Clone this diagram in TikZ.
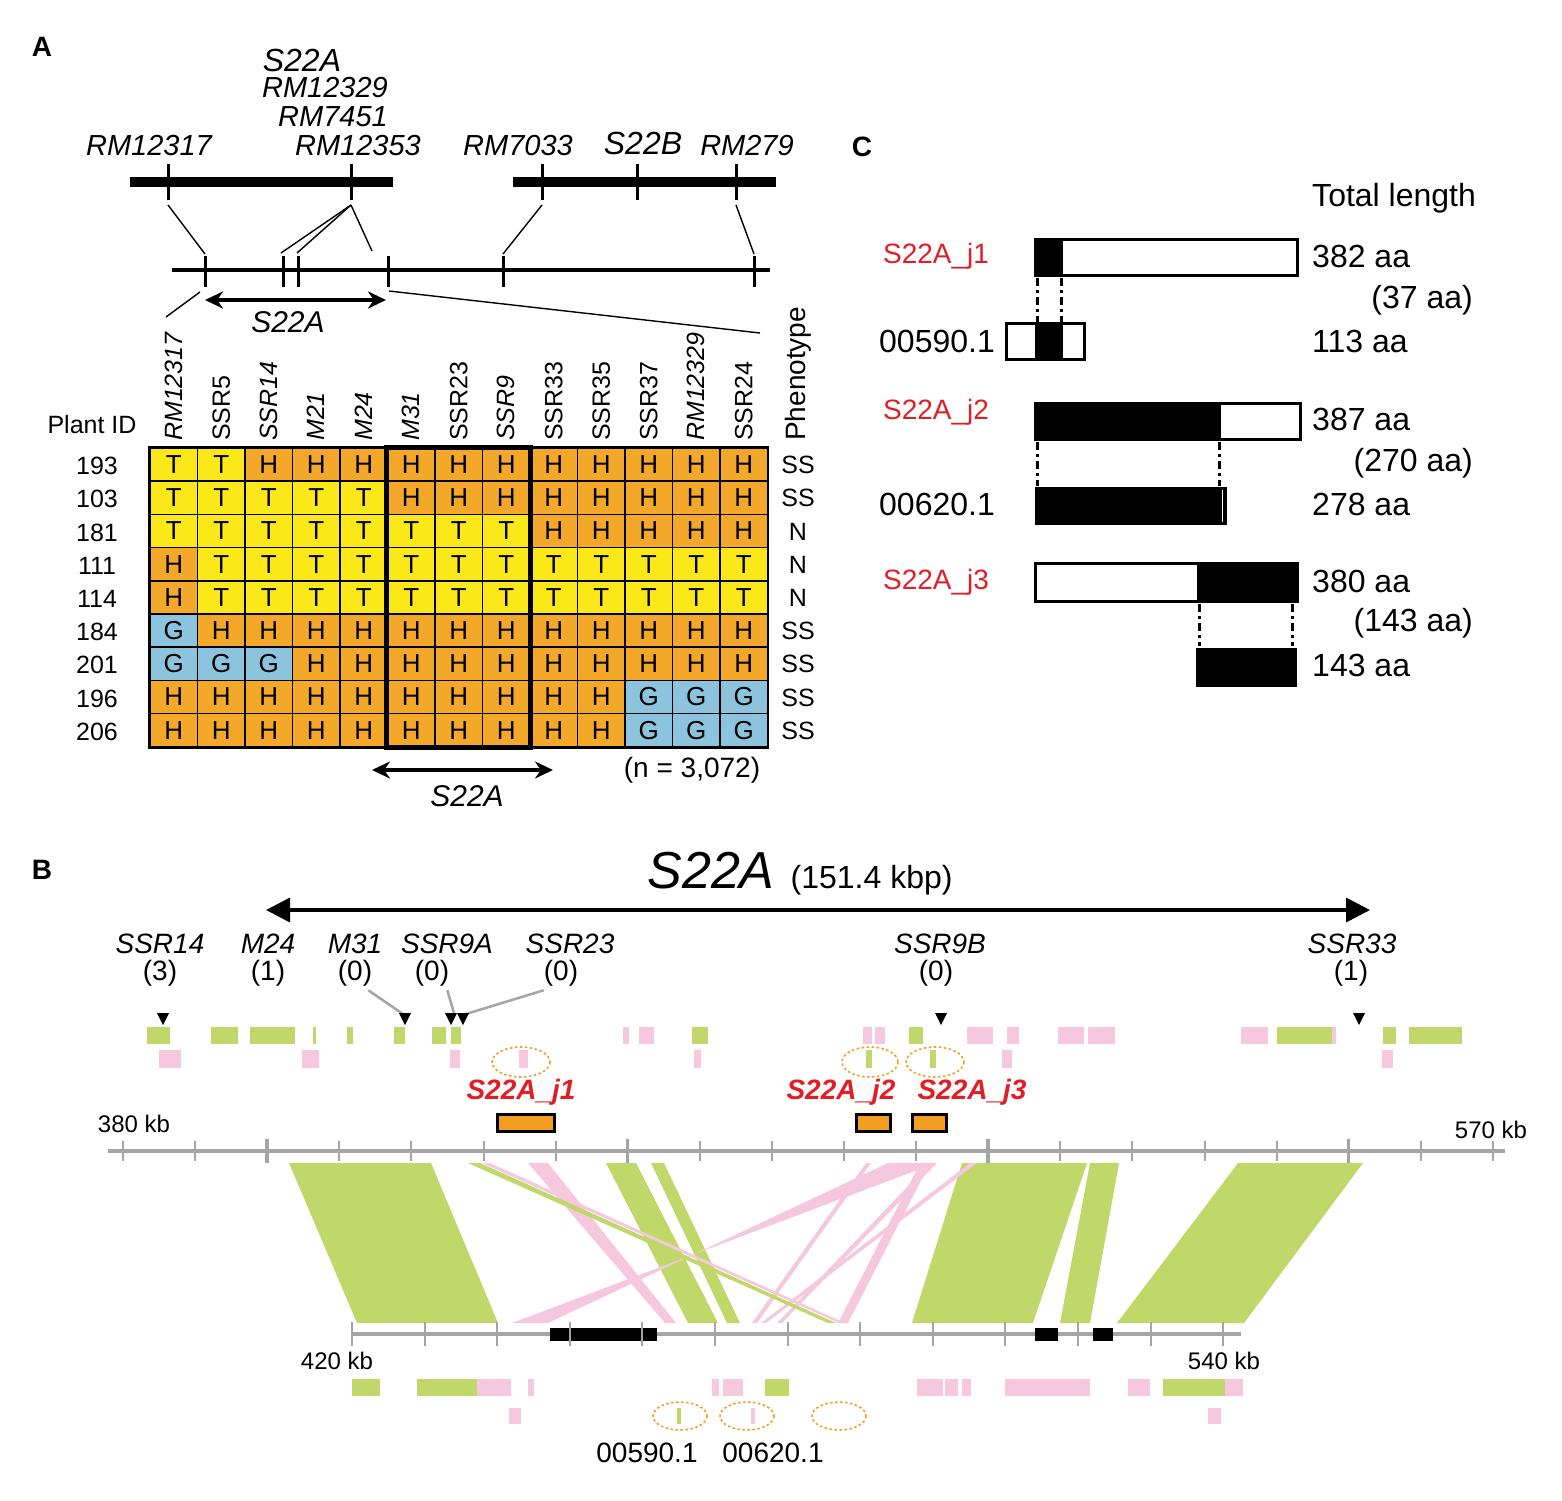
\documentclass[tikz,border=0pt]{standalone}
\usepackage{fontspec}
\setmainfont{Liberation Sans}
\usetikzlibrary{arrows.meta,calc}
\definecolor{colT}{RGB}{250,232,24}
\definecolor{colH}{RGB}{243,168,42}
\definecolor{colG}{RGB}{140,196,222}
\definecolor{cgrn}{RGB}{192,216,106}
\definecolor{cpnk}{RGB}{246,200,222}
\definecolor{redtxt}{RGB}{225,30,36}
\definecolor{cgry}{RGB}{165,165,165}
\definecolor{corn}{RGB}{242,158,32}
\newcommand{\fsz}[1]{\fontsize{#1}{#1}\selectfont}
\tikzset{
  mk/.style={font=\fsz{29}\itshape, inner sep=0pt},
  mkbig/.style={font=\fsz{32}\itshape, inner sep=0pt},
  lbl/.style={font=\fsz{28}\bfseries, inner sep=0pt},
  hdr/.style={font=\fsz{25}, rotate=90, anchor=west, inner sep=0pt},
  rid/.style={font=\fsz{25}, inner sep=0pt},
  cellbox/.style={draw=black, line width=1.6pt, minimum width=47.5pt, minimum height=33.2pt, inner sep=0pt, font=\fsz{26}},
  ctxt/.style={font=\fsz{32}, inner sep=0pt},
  redlbl/.style={font=\fsz{28}, text=redtxt, inner sep=0pt},
  bmk/.style={font=\fsz{28}\itshape, inner sep=0pt},
  bcnt/.style={font=\fsz{28}, inner sep=0pt},
  kb/.style={font=\fsz{24}, inner sep=0pt},
  jlbl/.style={font=\fsz{28}\bfseries\itshape, text=redtxt, inner sep=0pt},
  dbl/.style={line width=3.5pt, {Stealth[length=18pt,width=17pt]}-{Stealth[length=18pt,width=17pt]}},
  thinln/.style={line width=1.4pt},
  dashv/.style={line width=3pt, dash pattern=on 8pt off 4pt on 3pt off 4pt},
  orell/.style={draw=corn, line width=1.6pt, dash pattern=on 2.5pt off 2.5pt},
  jbox/.style={draw=black, fill=corn, line width=3pt},
  grline/.style={cgry, line width=2.5pt},
  tri/.pic={\fill (-6,0) -- (6,0) -- (0,12) -- cycle;}
}
\begin{document}
\begin{tikzpicture}[x=1pt,y=-1pt]
\useasboundingbox (0,0) rectangle (1562,1500);
\fill[white] (0,0) rectangle (1562,1500);

% ================= Panel A =================
\node[lbl] (labA) at (42,47) {A};
\draw[line width=10pt] (130,182) -- (393,182);
\draw[line width=10pt] (513,182) -- (776,182);
\foreach \n/\x in {a/168,b/351,c/542,d/637,e/736}{
  \draw[line width=3pt] (\x,164) -- (\x,200);
  \coordinate (up\n) at (\x,205);
}
\node[mk] (mRMa) at (149,146) {RM12317};
\node[mkbig] (mS22A) at (302,60) {S22A};
\node[mk] (mRMb) at (325,88) {RM12329};
\node[mk] (mRMc) at (333,117) {RM7451};
\node[mk] (mRMd) at (358,146) {RM12353};
\node[mk] (mRMe) at (518,146) {RM7033};
\node[mkbig] (mS22B) at (643,143) {S22B};
\node[mk] (mRMf) at (747,146) {RM279};

\draw[line width=4pt] (172,270) -- (770,270);
\foreach \x in {205,283,298,388,503,754}{
  \draw[line width=3pt] (\x,256) -- (\x,287);
}
\coordinate (loa) at (205,254);
\coordinate (lob) at (281,253);
\coordinate (loc) at (297,253);
\coordinate (lod) at (372,251);
\coordinate (loe) at (503,254);
\coordinate (lof) at (754,254);
\draw[thinln] (upa) -- (loa);
\draw[thinln] (upb) -- (lob);
\draw[thinln] (upb) -- (loc);
\draw[thinln] (upb) -- (lod);
\draw[thinln] (upc) -- (loe);
\draw[thinln] (upe) -- (lof);

\coordinate (zl1) at (200,292);
\coordinate (zl2) at (166,317);
\coordinate (zr1) at (389,291);
\coordinate (zr2) at (760,333);
\draw[thinln] (zl1) -- (zl2);
\draw[thinln] (zr1) -- (zr2);

\coordinate (sa1) at (205,300);
\coordinate (sa2) at (386,300);
\draw[dbl] (sa1) -- (sa2);
\node[font=\fsz{30}\itshape, inner sep=0pt] (s22aA) at (288,322) {S22A};

% column headers
\foreach \n/\st [count=\i from 0] in {RM12317/\itshape, SSR5/\upshape, SSR14/\itshape, M21/\itshape, M24/\itshape, M31/\itshape, SSR23/\upshape, SSR9/\itshape, SSR33/\upshape, SSR35/\upshape, SSR37/\upshape, RM12329/\itshape, SSR24/\upshape}{
  \node[hdr] (h\i) at ({173.75+47.5*\i},441) {\st\n};
}
\node[hdr, font=\fsz{28}] (hph) at (798,441) {Phenotype};
\node[rid] (plantid) at (92,425) {Plant ID};

% grid
\foreach \r/\id/\ph/\row in {
 0/193/SS/{T,T,H,H,H,H,H,H,H,H,H,H,H},
 1/103/SS/{T,T,T,T,T,H,H,H,H,H,H,H,H},
 2/181/N/{T,T,T,T,T,T,T,T,H,H,H,H,H},
 3/111/N/{H,T,T,T,T,T,T,T,T,T,T,T,T},
 4/114/N/{H,T,T,T,T,T,T,T,T,T,T,T,T},
 5/184/SS/{G,H,H,H,H,H,H,H,H,H,H,H,H},
 6/201/SS/{G,G,G,H,H,H,H,H,H,H,H,H,H},
 7/196/SS/{H,H,H,H,H,H,H,H,H,H,G,G,G},
 8/206/SS/{H,H,H,H,H,H,H,H,H,H,G,G,G}}{
  \node[rid] (id\r) at (97,{466+33.2*\r}) {\id};
  \node[rid] (ph\r) at (798,{465+33.2*\r}) {\ph};
  \foreach \c [count=\i from 0] in \row {
    \node[cellbox, fill=col\c] (c\r-\i) at ({173.75+47.5*\i},{464.6+33.2*\r}) {\c};
  }
}
\draw[line width=2pt] (c0-0.north west) rectangle (c8-12.south east);
\draw[line width=5pt] (c0-5.north west) rectangle (c8-7.south east);

\coordinate (sb1) at (372,770);
\coordinate (sb2) at (553,770);
\draw[dbl] (sb1) -- (sb2);
\node[font=\fsz{30}\itshape, inner sep=0pt] (s22aB) at (467,796) {S22A};
\node[bcnt] (nval) at (692,770) {(n = 3,072)};

% ================= Panel C =================
\node[lbl] (labC) at (862,147) {C};
\node[ctxt, anchor=west] (tot) at (1312,198) {Total length};

\node[redlbl] (j1) at (936,256) {S22A\_j1};
\fill (1035,239) rectangle (1063,275);
\draw[line width=3pt] (1035,239) rectangle (1297,275);
\node[ctxt, anchor=west] (l1) at (1312,256) {382 aa};
\coordinate (d1a) at (1037,278); \coordinate (d1b) at (1037,323);
\coordinate (d1c) at (1061,278); \coordinate (d1d) at (1061,323);
\draw[dashv] (d1a) -- (d1b);
\draw[dashv] (d1c) -- (d1d);
\node[ctxt, anchor=east] (o1) at (1473,300) {(37 aa)};
\node[ctxt] (g1) at (937,341) {00590.1};
\fill (1035,323) rectangle (1063,359);
\draw[line width=3pt] (1006,323) rectangle (1084,359);
\node[ctxt, anchor=west] (l2) at (1312,341) {113 aa};

\node[redlbl] (j2) at (936,412) {S22A\_j2};
\fill (1035,403) rectangle (1221,439);
\draw[line width=3pt] (1035,403) rectangle (1300,439);
\node[ctxt, anchor=west] (l3) at (1312,419) {387 aa};
\coordinate (d2a) at (1037,442); \coordinate (d2b) at (1037,486);
\coordinate (d2c) at (1219,442); \coordinate (d2d) at (1219,486);
\draw[dashv] (d2a) -- (d2b);
\draw[dashv] (d2c) -- (d2d);
\node[ctxt, anchor=east] (o2) at (1473,463) {(270 aa)};
\node[ctxt] (g2) at (937,504) {00620.1};
\fill (1035,487) rectangle (1227,525);
\draw[white, line width=1pt] (1222,490) -- (1222,522);
\node[ctxt, anchor=west] (l4) at (1312,504) {278 aa};

\node[redlbl] (j3) at (936,582) {S22A\_j3};
\fill (1197,563) rectangle (1297,601);
\draw[line width=3pt] (1035,563) rectangle (1297,601);
\node[ctxt, anchor=west] (l5) at (1312,581) {380 aa};
\coordinate (d3a) at (1199,604); \coordinate (d3b) at (1199,646);
\coordinate (d3c) at (1292,604); \coordinate (d3d) at (1292,646);
\draw[dashv] (d3a) -- (d3b);
\draw[dashv] (d3c) -- (d3d);
\node[ctxt, anchor=east] (o3) at (1473,623) {(143 aa)};
\fill (1196,648) rectangle (1297,687);
\node[ctxt, anchor=west] (l6) at (1312,665) {143 aa};

% ================= Panel B =================
\node[lbl] (labB) at (42,870) {B};
\node[inner sep=0pt, anchor=base] (title) at (800,888) {{\fsz{52}\itshape S22A}\hspace{16pt}{\fsz{32}(151.4 kbp)}};
\coordinate (ba1) at (266,910);
\coordinate (ba2) at (1370,910);
\draw[line width=3.5pt, {Triangle[length=24pt,width=24pt]}-{Triangle[length=24pt,width=24pt]}] (ba1) -- (ba2);

\node[bmk] (bm1) at (160,944) {SSR14};  \node[bcnt] (bc1) at (160,973) {(3)};
\node[bmk] (bm2) at (268,944) {M24};    \node[bcnt] (bc2) at (268,973) {(1)};
\node[bmk] (bm3) at (355,944) {M31};    \node[bcnt] (bc3) at (355,973) {(0)};
\node[bmk] (bm4) at (447,944) {SSR9A};  \node[bcnt] (bc4) at (432,973) {(0)};
\node[bmk] (bm5) at (570,944) {SSR23};  \node[bcnt] (bc5) at (561,973) {(0)};
\node[bmk] (bm6) at (940,944) {SSR9B};  \node[bcnt] (bc6) at (936,973) {(0)};
\node[bmk] (bm7) at (1352,944) {SSR33}; \node[bcnt] (bc7) at (1351,973) {(1)};

\coordinate (tr3) at (403,1014);
\coordinate (tr4) at (454,1013);
\coordinate (tr5) at (466,1014);
\draw[grline] ($(bc3.south east)+(-4,4)$) -- (tr3);
\draw[grline] ($(bc4.south east)+(-2,4)$) -- (tr4);
\draw[grline] ($(bc5.south west)+(0,4)$) -- (tr5);
\foreach \x in {163,405,451,463,941,1359}{ \pic at (\x,1013) {tri}; }

% feature rows (top)
\foreach \a/\b in {147/170,211/238,250/295,313/316,347/353,394/405,432/446,451/461,692/708,909/923,1277/1332,1383/1396,1409/1462}{
  \fill[cgrn] (\a,1027) rectangle (\b,1044);}
\foreach \a/\b in {623/629,639/654,863/872,875/885,967/993,1007/1019,1058/1084,1088/1115,1241/1268,1332/1336}{
  \fill[cpnk] (\a,1027) rectangle (\b,1044);}
\foreach \a/\b in {159/181,302/319,450/460,519/528,694/701,1002/1012,1382/1393}{
  \fill[cpnk] (\a,1050) rectangle (\b,1068);}
\foreach \a/\b in {866/872,930/936}{
  \fill[cgrn] (\a,1050) rectangle (\b,1068);}
\draw[orell] (521,1062) ellipse [x radius=29, y radius=15];
\draw[orell] (870,1062) ellipse [x radius=28, y radius=15];
\draw[orell] (935,1062) ellipse [x radius=29, y radius=15];

\node[jlbl] (bj1) at (521,1092) {S22A\_j1};
\node[jlbl] (bj2) at (841,1092) {S22A\_j2};
\node[jlbl] (bj3) at (972,1092) {S22A\_j3};
\draw[jbox] (497,1114) rectangle (554,1131);
\draw[jbox] (856,1114) rectangle (890,1131);
\draw[jbox] (912,1114) rectangle (946,1131);

% top ruler
\draw[cgry, line width=4pt] (108,1151) -- (1505,1151);
\foreach \k in {0,...,19}{
  \draw[cgry, line width=2pt] ({123+72.1*\k},1141) -- ({123+72.1*\k},1161);}
\foreach \k in {2,7,12,17}{
  \draw[cgry, line width=3.5pt] ({123+72.1*\k},1139) -- ({123+72.1*\k},1163);}
\node[kb] (k380) at (134,1124) {380 kb};
\node[kb] (k570) at (1491,1130) {570 kb};

% synteny ribbons
\fill[cgrn] (289,1163) -- (431,1163) -- (498,1323) -- (357,1323) -- cycle;
\fill[cgrn] (606,1163) -- (636,1163) -- (718,1323) -- (688,1323) -- cycle;
\fill[cgrn] (651,1163) -- (664,1163) -- (740,1323) -- (727,1323) -- cycle;
\fill[cgrn] (962,1163) -- (1087,1163) -- (1033,1323) -- (912,1323) -- cycle;
\fill[cgrn] (1090,1163) -- (1119,1163) -- (1090,1323) -- (1060,1323) -- cycle;
\fill[cgrn] (1238,1163) -- (1363,1163) -- (1244,1323) -- (1117,1323) -- cycle;
\fill[cpnk] (528,1163) -- (548,1163) -- (676,1323) -- (665,1323) -- cycle;
\fill[cpnk] (888,1163) -- (936,1163) -- (512,1323) -- (548,1323) -- cycle;
\fill[cpnk] (866,1163) -- (871,1163) -- (757,1323) -- (752,1323) -- cycle;
\fill[cpnk] (930,1163) -- (937,1163) -- (782,1323) -- (777,1323) -- cycle;
\fill[cpnk] (970,1163) -- (977,1163) -- (766,1323) -- (761,1323) -- cycle;
\fill[cpnk] (920,1163) -- (930,1163) -- (848,1323) -- (838,1323) -- cycle;
\fill[cgrn] (468,1163) -- (480,1163) -- (836,1323) -- (828,1323) -- cycle;
\fill[cpnk] (482,1163) -- (490,1163) -- (845,1323) -- (839,1323) -- cycle;

% bottom ruler
\draw[cgry, line width=4pt] (352,1334) -- (1241,1334);
\fill (550,1328) rectangle (657,1341);
\fill (1035,1328) rectangle (1058,1341);
\fill (1093,1328) rectangle (1113,1341);
\foreach \k in {0,...,12}{
  \draw[cgry, line width=2pt] ({352+72.6*\k},1322) -- ({352+72.6*\k},1346);}
\node[kb] (k420) at (337,1361) {420 kb};
\node[kb] (k540) at (1224,1361) {540 kb};

% feature rows (bottom)
\foreach \a/\b in {352/380,417/477,765/789,1163/1225}{
  \fill[cgrn] (\a,1379) rectangle (\b,1396);}
\foreach \a/\b in {477/511,528/534,712/719,723/743,917/943,945/958,962/971,1005/1090,1128/1150,1225/1243}{
  \fill[cpnk] (\a,1379) rectangle (\b,1396);}
\foreach \a/\b in {509/521,751/755,1208/1221}{
  \fill[cpnk] (\a,1408) rectangle (\b,1424);}
\fill[cgrn] (677,1408) rectangle (681,1424);
\draw[orell] (680,1416) ellipse [x radius=27, y radius=14];
\draw[orell] (747,1416) ellipse [x radius=27, y radius=14];
\draw[orell] (839,1416) ellipse [x radius=27, y radius=14];
\node[bcnt] (g590) at (647,1453) {00590.1};
\node[bcnt] (g620) at (773,1453) {00620.1};
\end{tikzpicture}
\end{document}
